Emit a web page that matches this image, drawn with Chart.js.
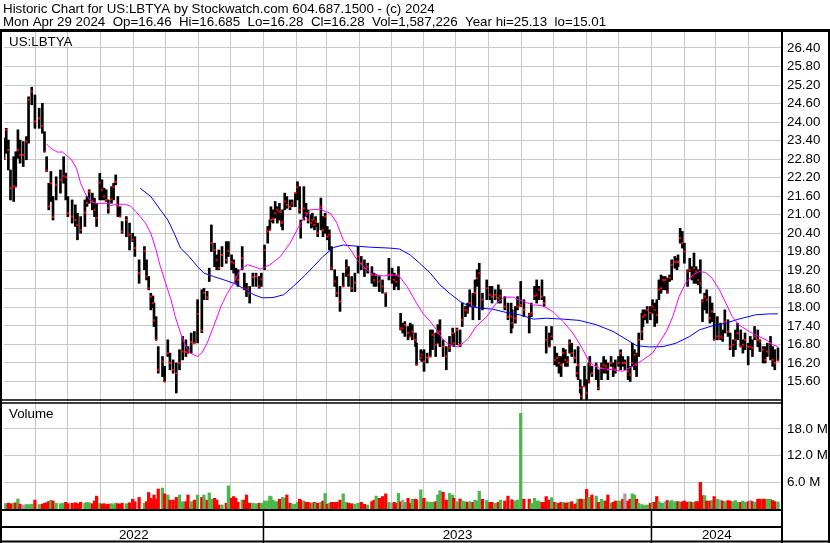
<!DOCTYPE html>
<html>
<head>
<meta charset="utf-8">
<title>US:LBTYA historic chart</title>
<script src="https://cdn.jsdelivr.net/npm/chart.js@4.4.1/dist/chart.umd.min.js"></script>
<style>
  html, body { margin: 0; padding: 0; background: #fff; }
  #wrap { width: 830px; height: 543px; }
</style>
</head>
<body>
<div id="wrap"><canvas id="chart" width="830" height="543"></canvas></div>
<script>
// Stockwatch style historic chart: price bars + 2 moving averages, volume below

const symbol = 'US:LBTYA';
const headerLines = [
    'Historic Chart for US:LBTYA by Stockwatch.com 604.687.1500 - (c) 2024',
    'Mon Apr 29 2024  Op=16.46  Hi=16.685  Lo=16.28  Cl=16.28  Vol=1,587,226  Year hi=25.13  lo=15.01'
];

// x values are day numbers counted from 1 Jan 2022
const barDay = [
    121,123,125,127,130,132,134,136,139,142, 144,147,150,154,157,159,161,163,165,167,
    170,174,177,179,181,185,188,190,193,197, 199,201,204,206,208,211,213,215,217,219,
    222,224,226,228,230,232,236,239,242,244, 248,253,255,257,259,261,262,264,266,270,
    272,275,277,280,283,286,289,292,294,297, 300,303,307,309,312,314,316,319,321,323,
    326,330,332,335,337,339,341,345,347,349, 352,355,358,361,363,366,369,371,372,
    374,376,378,380,382,383,385,387,390,392, 395,397,399,400,403,405,407,410,411,413,
    414,416,419,421,423,425,427,429,432,434, 437,440,443,445,448,451,454,457,460,463,
    467,469,471,474,477,480,483,486,488,490, 492,494,496,498,501,503,505,508,509,513,
    514,516,519,522,524,527,529,531,534,537, 540,543,544,547,550,552,555,557,559,562,
    564,566,568,571,575,578,580,583,586,588, 592,595,598,599,602,604,607,610,615,617,
    620,622,624,627,629,631,634,636,639,641, 643,645,647,649,651,653,655,658,660,661,
    663,664,667,669,671,672,674,678,680,683, 685,687,689,692,694,696,699,701,703,705,
    708,710,712,714,716,718,721,722,724,726, 729,731,733,735,737,739,741,743,745,747,
    749,752,754,755,757,759,761,764,766,768, 770,772,774,776,778,780,782,785,787,789,
    792,795,797,799,802,804,807,809,811,814, 816,818,821,823,825,827,830,832,835,837,
    839,842,844,846,849
];

const highs = [
    23.48,23.80,23.42,22.45,22.88,23.04,23.75,23.42,23.37,23.53, 24.82,25.13,24.88,24.45,24.61,23.69,22.88,22.02,22.40,21.59,
    22.23,22.45,22.88,22.35,21.59,21.48,21.32,21.05,20.94,21.48, 21.59,21.81,21.70,21.54,21.37,22.34,22.13,21.86,21.81,21.48,
    21.91,22.02,22.29,21.59,21.26,20.78,20.94,20.73,20.40,20.29, 19.54,19.97,19.54,19.00,18.46,18.37,18.14,17.70,16.73,16.41,
    16.09,16.95,16.52,16.30,16.20,16.63,17.06,16.95,16.73,17.17, 17.22,18.25,18.57,18.62,18.52,19.27,20.67,20.08,19.70,19.86,
    19.97,20.13,20.13,19.70,19.54,19.27,19.22,19.97,19.11,18.78, 18.68,19.11,19.11,19.00,19.11,20.02,20.62,20.83,21.26,
    21.16,21.43,21.26,21.37,21.05,21.16,21.70,21.59,21.48,21.48, 21.70,22.07,21.91,20.83,21.91,21.37,21.16,21.00,21.05,20.83,
    20.94,20.73,21.54,20.94,21.05,20.62,20.51,19.97,19.22,19.00, 18.68,19.11,19.54,19.32,19.00,19.11,19.97,19.65,19.54,19.43,
    19.32,19.11,19.05,19.00,18.89,18.46,19.59,19.27,19.11,19.05, 19.32,17.81,17.49,17.54,17.38,17.49,17.44,17.17,16.84,16.63,
    16.57,16.63,16.52,17.27,17.27,17.17,17.44,17.60,16.95,16.73, 17.06,17.33,17.17,17.33,17.27,18.14,18.03,18.14,18.57,18.46,
    18.89,19.22,19.43,18.46,18.89,18.68,18.68,18.57,18.73,18.57, 18.35,18.14,18.14,17.92,18.03,18.35,18.84,18.25,17.81,18.14,
    18.68,18.89,18.68,18.89,18.35,17.38,17.17,17.38,16.73,16.52, 16.41,16.41,16.68,16.63,16.41,16.95,16.84,16.63,16.09,16.73,
    15.66,15.44,16.09,15.66,16.20,16.41,16.09,16.20,15.98,16.20, 16.41,16.30,16.20,16.41,16.20,16.30,16.41,16.63,16.41,16.30,
    16.41,16.09,16.84,16.63,16.52,17.17,17.81,17.92,17.92,18.03, 18.03,18.25,18.14,18.25,18.89,19.05,19.00,19.00,18.95,19.05,
    19.54,19.65,19.59,19.70,20.56,20.46,20.08,19.22,19.59,19.32, 19.76,19.32,19.22,19.54,18.25,18.46,18.57,18.35,18.14,17.81,
    17.70,17.49,17.27,17.92,17.60,17.17,16.95,17.27,17.49,17.27, 16.95,17.17,16.84,17.06,16.95,17.38,17.27,16.95,16.73,16.73,
    16.84,17.06,16.73,16.63,16.69
];

const lows = [
    22.78,22.99,22.45,21.48,21.43,21.91,22.83,22.67,22.56,22.78, 23.32,24.56,23.80,23.80,23.64,23.04,22.40,21.16,21.43,20.83,
    21.48,21.70,22.02,21.48,20.94,20.73,20.62,20.19,20.40,20.62, 21.27,21.37,21.16,20.94,20.62,21.48,21.48,21.48,21.43,21.05,
    21.37,21.48,21.97,20.94,20.94,20.40,20.29,19.86,20.13,19.65, 18.78,19.22,18.89,18.57,17.92,17.99,17.38,16.95,15.87,15.76,
    15.60,16.41,15.98,15.87,15.23,15.98,16.30,16.41,16.52,16.52, 16.84,16.85,17.18,18.25,18.25,18.84,19.81,19.32,19.22,19.22,
    19.32,19.43,19.65,19.22,19.11,18.78,18.68,19.22,18.57,18.35, 18.14,18.68,18.68,18.62,18.68,19.22,20.08,20.51,20.78,
    20.73,20.89,20.73,20.83,20.62,20.51,21.16,21.21,21.16,21.26, 21.26,21.48,21.05,20.24,20.83,20.94,20.73,20.57,20.62,20.51,
    20.62,20.29,20.51,20.29,20.40,20.19,19.86,19.22,18.68,18.35, 17.87,18.68,19.00,18.68,18.51,18.51,19.11,19.22,19.00,19.11,
    18.78,18.68,18.68,18.51,18.46,18.03,18.89,18.78,18.57,18.68, 18.57,17.27,17.17,17.06,16.95,17.06,16.95,16.73,16.14,16.30,
    16.25,15.93,16.20,16.41,16.63,16.41,16.84,16.73,16.41,15.98, 16.57,16.79,16.73,16.79,16.73,17.38,17.70,17.81,18.03,17.60,
    18.03,18.68,17.60,17.92,18.25,18.25,18.14,18.25,18.14,18.14, 17.92,17.60,17.17,17.33,17.49,17.92,18.03,17.70,17.17,17.70,
    18.25,18.14,18.25,18.25,18.03,16.52,16.73,16.95,16.14,16.09, 15.87,15.76,16.20,16.09,16.09,16.52,16.41,16.20,15.76,15.66,
    15.23,15.01,15.44,15.01,15.55,15.87,15.76,15.66,15.33,15.66, 15.87,15.87,15.66,16.09,15.76,15.87,16.09,15.98,16.09,15.98,
    15.66,15.60,16.09,15.98,15.76,16.41,16.95,17.38,17.60,17.49, 17.60,17.81,17.38,17.49,18.25,18.46,18.57,18.57,18.46,18.84,
    18.89,19.27,19.22,19.32,20.08,19.92,19.43,18.68,19.16,18.89, 18.78,18.78,18.73,18.46,17.54,17.92,17.81,17.49,17.54,16.95,
    16.95,16.95,16.90,17.17,17.06,16.63,16.41,16.63,16.95,16.73, 16.52,16.63,16.14,16.63,16.41,16.95,16.73,16.57,16.20,16.20,
    16.41,16.30,16.09,15.98,16.28
];

const closes = [
    22.83,23.75,23.10,21.86,21.92,21.91,23.10,22.94,22.94,23.37, 24.72,24.99,24.02,24.12,23.88,23.04,22.43,21.27,22.02,20.94,
    21.97,22.13,22.26,22.23,21.05,20.94,20.83,20.67,20.51,21.07, 21.38,21.75,21.43,21.16,20.89,22.04,21.81,21.59,21.48,21.21,
    21.50,21.89,22.07,21.29,20.94,20.46,20.83,20.35,20.19,19.92, 19.11,19.83,19.00,18.62,18.35,18.14,17.58,16.95,15.98,16.25,
    15.60,16.52,16.20,15.98,15.87,16.20,16.57,16.56,16.54,16.88, 16.84,17.79,17.25,18.48,18.32,19.05,20.08,19.86,19.54,19.27,
    19.70,19.54,19.83,19.47,19.43,18.98,18.89,19.59,18.62,18.57, 18.46,18.98,19.00,18.68,18.91,19.86,20.46,20.51,20.83,
    20.86,21.05,21.16,21.10,20.73,20.78,21.43,21.32,21.26,21.37, 21.70,21.89,21.16,20.62,21.21,21.05,20.83,20.73,20.83,20.67,
    20.78,20.40,21.26,20.51,20.94,20.29,20.35,19.27,18.84,18.46, 18.19,18.68,19.27,19.05,18.62,18.80,19.65,19.43,19.27,19.32,
    19.05,18.89,19.05,18.84,18.68,18.46,19.05,19.05,18.89,18.83, 19.05,17.32,17.32,17.44,17.18,17.06,17.22,16.95,16.14,16.36,
    16.47,16.25,16.37,16.41,17.11,16.79,17.17,17.22,16.73,16.41, 16.68,17.17,16.84,17.27,16.79,17.60,17.92,17.87,18.14,18.03,
    18.47,18.95,19.11,18.25,18.62,18.41,18.35,18.41,18.30,18.37, 18.03,17.70,17.70,17.49,17.65,18.03,18.08,17.92,17.76,17.81,
    18.37,18.41,18.57,18.35,18.14,16.95,16.73,17.06,16.30,16.37, 16.20,16.14,16.52,16.30,16.24,16.84,16.52,16.37,15.87,16.14,
    15.39,15.12,15.44,15.23,15.60,16.14,15.87,16.09,15.39,16.04, 16.14,16.09,15.98,16.20,16.04,15.98,16.20,16.52,16.20,16.20,
    15.93,15.82,16.20,16.47,16.14,16.95,17.22,17.70,17.76,17.92, 17.82,18.03,17.92,17.76,18.57,18.62,18.89,18.89,18.51,18.96,
    19.38,19.47,19.48,19.47,20.24,20.08,19.81,19.16,19.22,19.00, 19.27,19.16,18.89,18.78,18.19,18.35,18.25,17.65,17.87,16.95,
    17.06,17.06,17.02,17.54,17.22,16.73,16.79,16.95,17.17,16.73, 16.79,16.95,16.73,16.73,16.68,17.06,16.95,16.90,16.63,16.30,
    16.57,16.84,16.30,16.20,16.28
];

// volume in millions of shares
const volumeM = [
    1.3,1.2,1.3,1.2,1.3,1.4,2.25,1.1,0.9,1.0, 1.0,1.1,2.0,1.0,1.1,1.3,1.4,1.7,2.0,1.8,
    1.3,1.2,1.3,1.5,1.2,1.3,1.4,1.2,1.5,1.3, 1.5,1.4,1.2,1.8,2.9,1.3,1.1,1.2,1.0,1.1,
    1.2,1.0,1.3,1.2,1.1,1.3,1.2,1.4,2.2,1.65, 2.6,1.3,1.65,3.7,2.4,2.0,3.15,2.2,4.5,4.7,
    3.4,3.15,2.0,2.0,2.6,3.15,1.65,1.65,3.15,1.65, 2.0,3.15,2.6,3.15,2.0,3.6,2.2,2.4,2.0,0.9,
    0.9,1.3,5.2,2.4,2.8,2.4,1.5,2.0,2.0,3.15, 1.3,1.3,1.2,1.3,1.3,1.8,1.8,2.9,2.8,
    2.0,1.65,1.65,2.2,2.0,2.6,2.4,3.15,1.3,1.1, 1.1,1.5,2.2,2.0,1.8,1.5,1.5,1.3,1.4,1.5,
    1.3,1.3,1.5,1.8,3.5,1.1,1.3,1.5,1.5,1.5, 2.0,3.4,1.5,1.3,1.2,1.1,1.3,1.5,1.05,0.9,
    1.65,2.0,2.9,2.4,2.8,3.4,1.5,1.3,1.5,1.3, 3.5,1.6,2.0,1.5,2.4,1.3,2.2,2.2,2.0,4.3,
    2.4,2.4,1.65,1.5,1.5,1.65,3.15,4.1,3.75,2.0, 3.5,3.15,2.4,1.65,2.25,1.8,1.65,1.5,1.65,1.5,
    2.0,1.8,4.0,2.2,1.9,1.5,1.5,1.3,1.5,2.0, 1.8,2.9,2.2,2.0,1.8,2.0,21.5,2.2,2.2,1.3,
    2.4,1.8,1.8,1.5,1.5,2.8,2.0,2.55,1.5,1.3, 1.3,1.5,1.5,1.3,1.4,1.5,1.65,1.05,1.3,2.2,
    2.2,2.2,2.2,4.4,2.55,2.6,3.15,2.9,1.5,2.2, 1.8,1.8,3.15,1.3,1.5,1.8,1.8,1.8,2.2,3.4,
    1.8,2.2,3.4,3.15,2.2,1.3,1.0,0.75,0.75,0.9, 1.3,1.5,1.5,2.8,1.65,1.3,1.3,1.65,1.9,1.65,
    1.9,1.65,1.65,1.65,1.5,1.65,1.8,1.5,1.65,1.5, 1.5,1.65,1.65,6.0,3.0,3.0,1.8,1.8,1.9,2.8,
    2.2,2.0,1.8,1.65,1.9,1.8,1.65,1.9,1.5,1.5, 1.8,1.5,1.65,1.9,1.65,1.5,2.2,2.2,2.2,2.2,
    2.2,2.2,1.9,1.65,1.59
];

// short moving average (magenta)
const fastMaDay = [
    161,165,171,176,179,184,189,193,198,203, 207,219,221,226,235,240,245,249,254,259,
    264,268,273,278,282,287,292,296,303,307, 312,318,325,331,337,343,350,356,362,371,
    381,390,400,409,418,428,434,440,447,453, 459,468,478,487,493,500,509,515,522,528,
    534,540,547,551,558,565,575,584,592,600, 609,619,628,637,647,656,664,672,681,694,
    703,712,722,731,737,744,750,756,762,769, 775,781,787,794,800,806,812,822,831,838,
    844,849
];
const fastMa = [
    23.29,23.15,23.03,23.03,22.94,22.80,22.51,22.02,21.64,21.43, 21.37,21.37,21.29,21.34,21.34,21.28,21.10,20.94,20.73,20.40,
    19.86,19.32,18.78,18.25,17.70,17.17,16.73,16.52,16.41,16.52, 16.84,17.38,18.03,18.46,18.78,19.22,19.38,19.32,19.24,19.38,
    19.65,20.08,20.73,21.16,21.18,21.05,20.73,20.19,19.86,19.54, 19.32,19.05,19.02,19.05,19.00,18.68,18.14,17.81,17.54,17.27,
    16.95,16.79,16.73,16.79,17.01,17.38,17.70,18.14,18.33,18.33, 18.19,18.08,18.05,17.87,17.54,17.17,16.73,16.20,16.03,15.98,
    15.93,16.09,16.30,16.52,16.84,17.22,17.70,18.35,18.78,19.05, 19.16,19.13,18.95,18.57,18.14,17.70,17.44,17.22,17.06,16.95,
    16.79,16.73
];

// long moving average (blue)
const slowMaDay = [
    249,259,268,275,281,287,295,303,309,318, 328,337,346,356,364,374,384,393,403,412,
    421,431,440,450,465,484,493,503,512,522, 531,540,550,559,568,581,594,606,619,631,
    647,662,678,694,706,716,728,741,753,766, 775,787,800,812,828,841,849
];
const slowMa = [
    21.86,21.59,21.16,20.83,20.40,19.92,19.65,19.32,19.11,19.00, 18.89,18.78,18.62,18.41,18.31,18.32,18.41,18.68,19.00,19.32,
    19.65,19.94,20.02,19.99,19.95,19.92,19.89,19.70,19.43,19.11, 18.73,18.46,18.19,18.03,17.98,17.94,17.83,17.76,17.62,17.65,
    17.62,17.58,17.44,17.22,16.97,16.76,16.72,16.73,16.84,17.06, 17.27,17.40,17.49,17.62,17.76,17.79,17.79
];

const priceTicks = [15.6, 16.2, 16.8, 17.4, 18.0, 18.6, 19.2, 19.8, 20.4, 21.0, 21.6, 22.2, 22.8, 23.4, 24.0, 24.6, 25.2, 25.8, 26.4];
const volumeTicks = [6, 12, 18];
const monthStarts = [151, 181, 212, 243, 273, 304, 334, 365, 396, 424, 455, 485, 516, 546, 577, 608, 638, 669, 699, 730, 761, 790, 821];
const yearLabels = ['2022', '2023', '2024'];
const yearStarts = [0, 365, 730, 1096];
const priceFloor = 15.01;

// axis ranges (price panel on top, volume panel under it)
const DAY_MIN = 120.9, DAY_MAX = 852.8;
const PRICE_MIN = 14.969, PRICE_MAX = 26.918;
const VOL_MAX = 24.27;

const FONT = 'Arial, "Liberation Sans", sans-serif';
const FONT_SIZE = 13.33;
const GRID = '#c8c8c8';
Chart.defaults.font.family = FONT;
Chart.defaults.font.size = FONT_SIZE;
Chart.defaults.color = '#000';

// up / down colouring of volume, from close to close
const volColors = closes.map((c, i) => {
    if (i === 0 || c === closes[i - 1]) return '#a0a0a0';
    return c > closes[i - 1] ? '#4cb84c' : '#ff0000';
});

const yearCentres = yearLabels.map((_, i) =>
    (Math.max(yearStarts[i], DAY_MIN) + Math.min(yearStarts[i + 1], DAY_MAX)) / 2);

// frame, header text and bottom rows
const chrome = {
    id: 'chrome',
    beforeDraw(chart) {
        const c = chart.ctx;
        c.save();
        c.fillStyle = '#fff';
        c.fillRect(0, 0, chart.width, chart.height);
        c.restore();
    },
    afterDraw(chart) {
        const c = chart.ctx;
        const a = chart.chartArea;
        const w = chart.width, h = chart.height;
        const xs = chart.scales.x;
        const yP = chart.scales.yPrice;

        c.save();
        c.fillStyle = '#000';
        c.font = FONT_SIZE + 'px ' + FONT;
        c.textAlign = 'left';
        c.textBaseline = 'alphabetic';
        c.fillText(headerLines[0], 3, 13);
        c.fillText(headerLines[1], 3, 26);
        c.fillText(symbol, 9, 46);
        c.fillText('Volume', 9, 418);

        // outer frame and axis line
        c.fillRect(0, 29, w, 3);
        c.fillRect(0, 29, 2, h - 29);
        c.fillRect(w - 2, 29, 2, h - 29);
        c.fillRect(a.right - 1, 29, 2, h - 29);

        // double line between price and volume panels
        const sepY = yP.getPixelForValue(priceFloor);
        c.fillRect(0, sepY - 0.5, a.right, 1.5);
        c.fillRect(0, sepY + 2.5, a.right, 1.5);

        // rows under the volume panel
        c.fillRect(0, a.bottom, a.right, 2);
        c.fillRect(0, a.bottom + 17, a.right, 2);
        c.fillRect(0, h - 2.5, w, 2);
        yearStarts.forEach(d => {
            if (d <= DAY_MIN || d >= DAY_MAX) return;
            const px = xs.getPixelForValue(d);
            c.fillRect(px - 0.75, a.bottom, 1.5, h - a.bottom);
        });
        c.restore();
    }
};

new Chart(document.getElementById('chart'), {
    type: 'bar',
    data: {
        datasets: [
            {
                type: 'line',
                data: fastMaDay.map((d, i) => ({ x: d, y: fastMa[i] })),
                yAxisID: 'yPrice',
                borderColor: '#ff00ff',
                borderWidth: 1,
                pointRadius: 0,
                tension: 0,
                order: 0
            },
            {
                type: 'line',
                data: slowMaDay.map((d, i) => ({ x: d, y: slowMa[i] })),
                yAxisID: 'yPrice',
                borderColor: '#0000ff',
                borderWidth: 1,
                pointRadius: 0,
                tension: 0,
                order: 1
            },
            {
                type: 'scatter',
                data: barDay.map((d, i) => ({ x: d, y: closes[i] })),
                yAxisID: 'yPrice',
                pointStyle: 'rect',
                pointRadius: 1.45,
                backgroundColor: '#ff0000',
                borderWidth: 0,
                order: 2
            },
            {
                type: 'bar',
                data: barDay.map((d, i) => ({ x: d, y: [lows[i], highs[i]] })),
                yAxisID: 'yPrice',
                backgroundColor: '#000',
                barThickness: 2,
                grouped: false,
                order: 3
            },
            {
                type: 'bar',
                data: barDay.map((d, i) => ({ x: d, y: volumeM[i] })),
                yAxisID: 'yVol',
                backgroundColor: volColors,
                barThickness: 2.6,
                grouped: false,
                order: 4
            }
        ]
    },
    options: {
        responsive: false,
        animation: false,
        devicePixelRatio: 1,
        events: [],
        layout: { padding: { top: 32, left: 2, right: 0, bottom: 0 } },
        plugins: {
            legend: { display: false },
            tooltip: { enabled: false },
            title: { display: false }
        },
        scales: {
            x: {
                type: 'linear',
                min: DAY_MIN,
                max: DAY_MAX,
                offset: false,
                position: 'bottom',
                weight: 0,
                grid: { color: GRID, drawTicks: false, offset: false },
                border: { display: false },
                ticks: { display: false },
                afterBuildTicks: s => { s.ticks = monthStarts.map(v => ({ value: v })); },
                afterFit: s => { s.height = 0; }
            },
            xYear: {
                type: 'linear',
                display: true,
                min: DAY_MIN,
                max: DAY_MAX,
                offset: false,
                position: 'bottom',
                weight: 1,
                grid: { display: false, drawTicks: false, offset: false },
                border: { display: false },
                ticks: {
                    padding: 18,
                    autoSkip: false,
                    maxRotation: 0,
                    callback: (v, i) => yearLabels[i]
                },
                afterBuildTicks: s => { s.ticks = yearCentres.map(v => ({ value: v })); },
                afterFit: s => { s.height = 34; }
            },
            yPrice: {
                type: 'linear',
                position: 'right',
                stack: 'panels',
                stackWeight: 369,
                min: PRICE_MIN,
                max: PRICE_MAX,
                grid: { color: GRID, drawTicks: false },
                border: { display: false },
                ticks: {
                    padding: 5,
                    autoSkip: false,
                    callback: v => v.toFixed(2)
                },
                afterBuildTicks: s => { s.ticks = priceTicks.map(v => ({ value: v })); },
                afterFit: s => { s.width = 48; }
            },
            yVol: {
                type: 'linear',
                position: 'right',
                stack: 'panels',
                stackWeight: 108,
                min: 0,
                max: VOL_MAX,
                grid: { color: GRID, drawTicks: false },
                border: { display: false },
                ticks: {
                    padding: 5,
                    autoSkip: false,
                    callback: v => v.toFixed(1) + ' M'
                },
                afterBuildTicks: s => { s.ticks = volumeTicks.map(v => ({ value: v })); },
                afterFit: s => { s.width = 48; }
            }
        }
    },
    plugins: [chrome]
});
</script>
</body>
</html>
